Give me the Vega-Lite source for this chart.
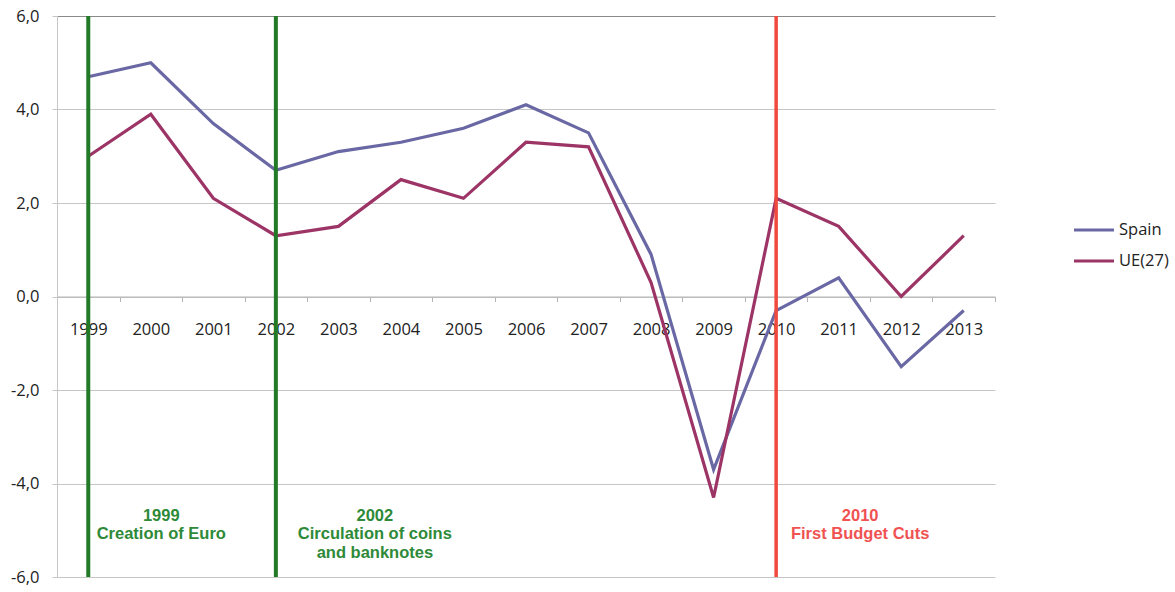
{
  "$schema": "https://vega.github.io/schema/vega-lite/v6.json",
  "width": 938,
  "height": 561,
  "autosize": {"type": "none"},
  "padding": {"left": 57, "top": 16, "right": 180, "bottom": 15},
  "background": "white",
  "config": {"view": {"stroke": null}, "font": "Open Sans"},
  "datasets": {
    "gdp": [
      {"year": "1999", "region": "Spain", "growth": 4.7},
      {"year": "2000", "region": "Spain", "growth": 5.0},
      {"year": "2001", "region": "Spain", "growth": 3.7},
      {"year": "2002", "region": "Spain", "growth": 2.7},
      {"year": "2003", "region": "Spain", "growth": 3.1},
      {"year": "2004", "region": "Spain", "growth": 3.3},
      {"year": "2005", "region": "Spain", "growth": 3.6},
      {"year": "2006", "region": "Spain", "growth": 4.1},
      {"year": "2007", "region": "Spain", "growth": 3.5},
      {"year": "2008", "region": "Spain", "growth": 0.9},
      {"year": "2009", "region": "Spain", "growth": -3.7},
      {"year": "2010", "region": "Spain", "growth": -0.3},
      {"year": "2011", "region": "Spain", "growth": 0.4},
      {"year": "2012", "region": "Spain", "growth": -1.5},
      {"year": "2013", "region": "Spain", "growth": -0.3},
      {"year": "1999", "region": "UE(27)", "growth": 3.0},
      {"year": "2000", "region": "UE(27)", "growth": 3.9},
      {"year": "2001", "region": "UE(27)", "growth": 2.1},
      {"year": "2002", "region": "UE(27)", "growth": 1.3},
      {"year": "2003", "region": "UE(27)", "growth": 1.5},
      {"year": "2004", "region": "UE(27)", "growth": 2.5},
      {"year": "2005", "region": "UE(27)", "growth": 2.1},
      {"year": "2006", "region": "UE(27)", "growth": 3.3},
      {"year": "2007", "region": "UE(27)", "growth": 3.2},
      {"year": "2008", "region": "UE(27)", "growth": 0.3},
      {"year": "2009", "region": "UE(27)", "growth": -4.3},
      {"year": "2010", "region": "UE(27)", "growth": 2.1},
      {"year": "2011", "region": "UE(27)", "growth": 1.5},
      {"year": "2012", "region": "UE(27)", "growth": 0.0},
      {"year": "2013", "region": "UE(27)", "growth": 1.3}
    ],
    "events": [
      {"year": "1999", "label": "1999\nCreation of Euro"},
      {"year": "2002", "label": "2002\nCirculation of coins\nand banknotes"},
      {"year": "2010", "label": "2010\nFirst Budget Cuts"}
    ]
  },
  "layer": [
    {
      "data": {"name": "gdp"},
      "mark": {"type": "line", "strokeWidth": 3.2},
      "encoding": {
        "x": {
          "field": "year",
          "type": "ordinal",
          "scale": {"type": "band", "paddingInner": 0, "paddingOuter": 0,
            "domain": ["1999","2000","2001","2002","2003","2004","2005","2006","2007","2008","2009","2010","2011","2012","2013"]},
          "axis": {
            "title": null,
            "orient": "bottom",
            "offset": -280.5,
            "tickBand": "extent",
            "grid": false,
            "domainColor": "#b4b4b4",
            "tickColor": "#b4b4b4",
            "tickSize": 5,
            "labelAngle": 0,
            "labelFont": "Open Sans",
            "labelFontSize": 16.5,
            "labelColor": "#222222",
            "labelPadding": 20
          }
        },
        "y": {
          "field": "growth",
          "type": "quantitative",
          "scale": {"domain": [-6, 6], "nice": false, "zero": false},
          "axis": {
            "title": null,
            "values": [-6, -4, -2, 0, 2, 4, 6],
            "grid": true,
            "gridColor": {"condition": {"test": "datum.value === 6", "value": "#8a8a8a"}, "value": "#c6c6c6"},
            "gridWidth": 1,
            "domainColor": "#c6c6c6",
            "tickColor": "#c6c6c6",
            "tickSize": 5,
            "labelExpr": "replace(replace(format(datum.value, '.1f'), '.', ','), '\u2212', '-')",
            "labelFont": "Open Sans",
            "labelFontSize": 16.5,
            "labelColor": "#222222",
            "labelPadding": 13
          }
        },
        "color": {
          "field": "region",
          "type": "nominal",
          "scale": {"domain": ["Spain", "UE(27)"], "range": ["#6A68A4", "#9C3466"]},
          "legend": {
            "title": null,
            "orient": "none",
            "legendX": 1015,
            "legendY": 192,
            "symbolType": "stroke",
            "symbolSize": 1600,
            "symbolStrokeWidth": 3.2,
            "labelFont": "Open Sans",
            "labelFontSize": 16.5,
            "labelColor": "#222222",
            "labelOffset": 3,
            "rowPadding": -6
          }
        }
      }
    },
    {
      "data": {"name": "events"},
      "transform": [{"filter": "datum.year !== '2010'"}],
      "mark": {"type": "rule", "color": "#237A26", "strokeWidth": 4},
      "encoding": {"x": {"field": "year", "type": "ordinal"}}
    },
    {
      "data": {"name": "events"},
      "transform": [{"filter": "datum.year === '2010'"}],
      "mark": {"type": "rule", "color": "#F04A3E", "strokeWidth": 3.5},
      "encoding": {"x": {"field": "year", "type": "ordinal"}}
    },
    {
      "data": {"name": "events"},
      "transform": [{"filter": "datum.year === '1999'"}],
      "mark": {"type": "text", "font": "Liberation Sans", "fontWeight": "bold", "fontSize": 16.5, "align": "center", "baseline": "alphabetic", "lineBreak": "\n", "lineHeight": 18.5, "color": "#2E8A38", "dx": 73},
      "encoding": {"x": {"field": "year", "type": "ordinal"}, "y": {"datum": -4.8}, "text": {"field": "label"}}
    },
    {
      "data": {"name": "events"},
      "transform": [{"filter": "datum.year === '2002'"}],
      "mark": {"type": "text", "font": "Liberation Sans", "fontWeight": "bold", "fontSize": 16.5, "align": "center", "baseline": "alphabetic", "lineBreak": "\n", "lineHeight": 18.5, "color": "#2E8A38", "dx": 99},
      "encoding": {"x": {"field": "year", "type": "ordinal"}, "y": {"datum": -4.8}, "text": {"field": "label"}}
    },
    {
      "data": {"name": "events"},
      "transform": [{"filter": "datum.year === '2010'"}],
      "mark": {"type": "text", "font": "Liberation Sans", "fontWeight": "bold", "fontSize": 16.5, "align": "center", "baseline": "alphabetic", "lineBreak": "\n", "lineHeight": 18.5, "color": "#F05252", "dx": 84},
      "encoding": {"x": {"field": "year", "type": "ordinal"}, "y": {"datum": -4.8}, "text": {"field": "label"}}
    }
  ]
}
